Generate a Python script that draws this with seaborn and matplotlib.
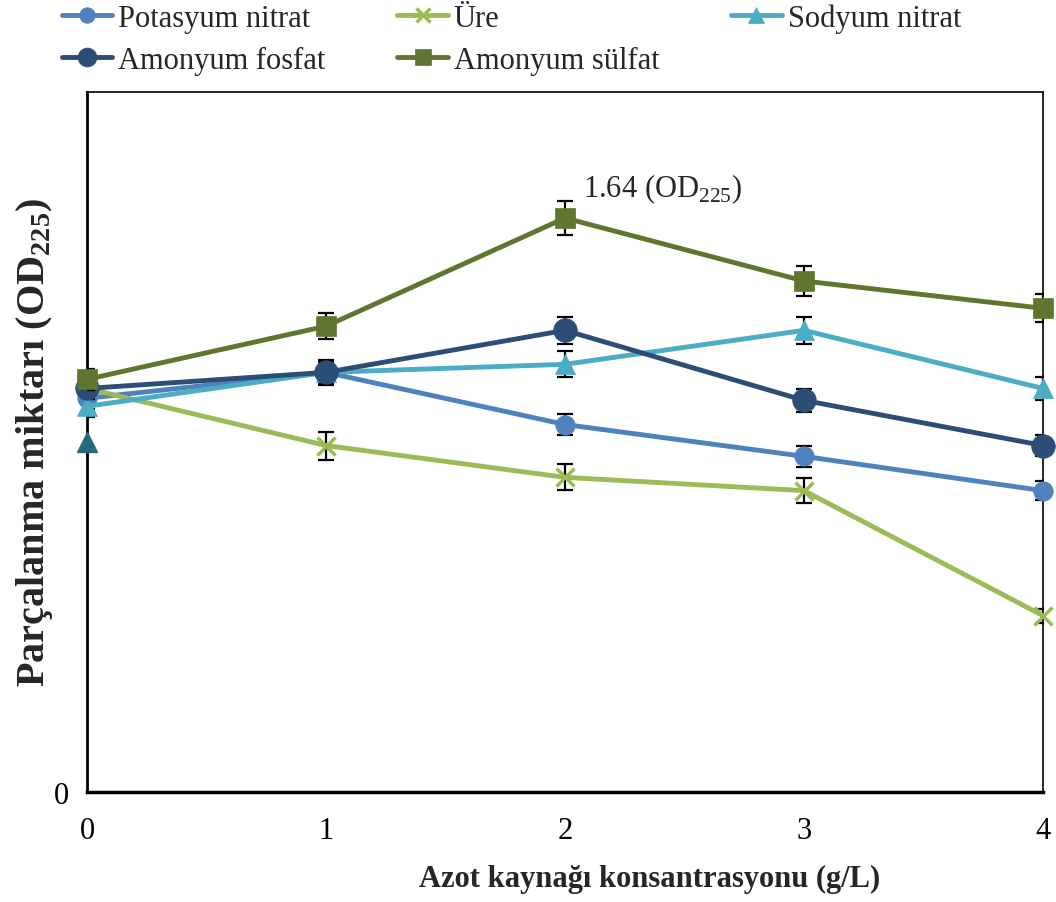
import matplotlib
matplotlib.use("Agg")
import matplotlib.pyplot as plt
import seaborn as sns
import pandas as pd

sns.set_theme(style="white")
plt.rcParams['font.family'] = ['Liberation Serif', 'DejaVu Serif']
plt.rcParams['mathtext.fontset'] = 'custom'
plt.rcParams['mathtext.rm'] = 'Liberation Serif'
plt.rcParams['mathtext.bf'] = 'Liberation Serif:bold'

x_vals = [0, 1, 2, 3, 4]
series_names = ["Potasyum nitrat", "Üre", "Sodyum nitrat", "Amonyum fosfat", "Amonyum sülfat"]
potasyum = [1.125, 1.199, 1.050, 0.959, 0.861]
ure = [1.153, 0.990, 0.899, 0.861, 0.504]
sodyum = [1.102, 1.199, 1.222, 1.319, 1.153]
fosfat = [1.153, 1.199, 1.319, 1.119, 0.990]
sulfat = [1.179, 1.331, 1.640, 1.460, 1.382]
err_potasyum = [0.03, 0.03, 0.030, 0.029, 0.027]
err_ure = [0.03, 0.040, 0.037, 0.036, 0.020]
err_sodyum = [0.03, 0.03, 0.037, 0.039, 0.034]
err_fosfat = [0.03, 0.035, 0.039, 0.033, 0.030]
err_sulfat = [0.03, 0.038, 0.049, 0.044, 0.040]
extra_x = [0]
extra_y = [0.999]

values = [potasyum, ure, sodyum, fosfat, sulfat]
errors = [err_potasyum, err_ure, err_sodyum, err_fosfat, err_sulfat]
colors = ["#4F81BD", "#9BBB59", "#4BACC6", "#2C4D75", "#5F7530"]
markers = ["o", "x", "^", "o", "s"]
msizes = [14, 13, 15, 17, 15]

rows = []
for name, vals in zip(series_names, values):
    for xv, yv in zip(x_vals, vals):
        rows.append({"x": xv, "y": yv, "series": name})
df = pd.DataFrame(rows)

fig = plt.figure(figsize=(10.56, 9.03), dpi=100)
ax = fig.add_axes([0.0824, 0.1218, 0.9053, 0.7752])

for i, (name, vals, errs, c, m, ms) in enumerate(zip(series_names, values, errors, colors, markers, msizes)):
    ax.errorbar(x_vals, vals, yerr=errs, fmt="none", ecolor="black", elinewidth=1.6,
                capsize=6, capthick=1.6, zorder=2 + i)
    sub = df[df["series"] == name]
    sns.lineplot(data=sub, x="x", y="y", ax=ax, color=c, marker=m, markersize=ms,
                 linewidth=3.5, markeredgecolor=c, markeredgewidth=2.5 if m == "x" else 0.5,
                 clip_on=False, zorder=3 + i, label=name, legend=False)

ax.plot(extra_x, extra_y, linestyle="none", marker="^", markersize=15, color="#276A7C",
        clip_on=False, zorder=10)

ax.set_xlim(0, 4)
ax.set_ylim(0, 2.0)
ax.set_xticks(x_vals)
ax.set_xticklabels([str(v) for v in x_vals], fontsize=22)
ax.set_yticks([0])
ax.set_yticklabels(["0"], fontsize=22)
ax.tick_params(axis="x", direction="out", length=7, width=1.5, pad=10, colors="black")
ax.tick_params(axis="y", direction="out", length=7, width=1.5, pad=6, colors="black")
for s in ax.spines.values():
    s.set_color("black")
    s.set_linewidth(1.2)
ax.spines["bottom"].set_linewidth(2.5)
ax.spines["left"].set_linewidth(2.0)

ax.set_xlabel("Azot kaynağı konsantrasyonu (g/L)", fontsize=22, fontweight="bold")
ax.xaxis.set_label_coords(0.589, -0.103)
ax.set_ylabel(r"Parçalanma miktarı (OD$_{\mathbf{225}}$)", fontsize=29, fontweight="bold")
ax.yaxis.set_label_coords(-0.034, 0.5)

ax.text(2.075, 1.726, r"1.64 (OD$_{225}$)", fontsize=22, va="center", ha="left")

lines = ax.get_lines()
lab = {l.get_label(): l for l in lines if l.get_label() in series_names}
order = ["Potasyum nitrat", "Amonyum fosfat", "Üre", "Amonyum sülfat", "Sodyum nitrat"]
leg = fig.legend([lab[n] for n in order], order, loc="upper left", bbox_to_anchor=(0.057, 0.997),
                 ncol=3, frameon=False, fontsize=22, handlelength=1.65, handletextpad=0.2,
                 columnspacing=2.35, labelspacing=0.42, markerscale=0.8, borderpad=0.05,
                 borderaxespad=0.0)

fig.savefig("out.png", dpi=100)
